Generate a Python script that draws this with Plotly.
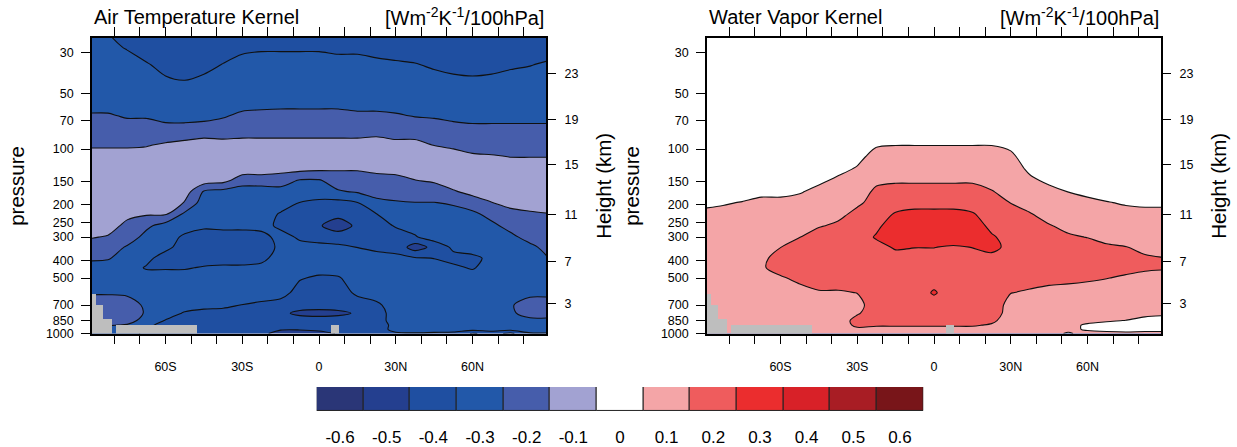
import numpy as np
import plotly.graph_objects as go

# ---------------- data ----------------
LAT = [-90, -82.5, -75, -67.5, -60, -52.5, -45, -37.5, -30, -22.5, -15, -7.5, 0,
       7.5, 15, 22.5, 30, 37.5, 45, 52.5, 60, 67.5, 75, 82.5, 90]
PRES = [1000, 950, 900, 850, 775, 700, 600, 500, 440, 390, 340, 300, 260, 225,
        195, 170, 148, 128, 110, 95, 80, 66, 54, 44, 35, 28, 22]

# Air temperature kernel: one vertical profile (values at PRES) per latitude in LAT
TA_KERNEL = [
    [-0.30, -0.30, -0.22, -0.20, -0.20, -0.20, -0.26, -0.30, -0.30, -0.23, -0.20, -0.14, -0.10, -0.10, -0.10, -0.10, -0.10, -0.10, -0.12, -0.16, -0.20, -0.24, -0.30, -0.30, -0.30, -0.30, -0.30],
    [-0.30, -0.30, -0.24, -0.20, -0.20, -0.20, -0.26, -0.30, -0.30, -0.24, -0.20, -0.16, -0.10, -0.10, -0.10, -0.10, -0.10, -0.10, -0.12, -0.16, -0.20, -0.24, -0.30, -0.30, -0.30, -0.32, -0.36],
    [-0.30, -0.30, -0.26, -0.20, -0.20, -0.20, -0.27, -0.30, -0.30, -0.30, -0.26, -0.20, -0.18, -0.12, -0.10, -0.10, -0.10, -0.10, -0.12, -0.16, -0.20, -0.26, -0.30, -0.30, -0.30, -0.36, -0.40],
    [-0.38, -0.36, -0.33, -0.30, -0.26, -0.27, -0.30, -0.30, -0.36, -0.32, -0.30, -0.28, -0.23, -0.14, -0.10, -0.10, -0.10, -0.10, -0.12, -0.155, -0.20, -0.26, -0.30, -0.30, -0.34, -0.40, -0.40],
    [-0.40, -0.40, -0.38, -0.355, -0.30, -0.30, -0.30, -0.30, -0.36, -0.40, -0.32, -0.30, -0.29, -0.14, -0.10, -0.10, -0.10, -0.10, -0.11, -0.14, -0.20, -0.29, -0.31, -0.33, -0.38, -0.40, -0.40],
    [-0.42, -0.42, -0.40, -0.38, -0.36, -0.30, -0.30, -0.30, -0.36, -0.40, -0.40, -0.37, -0.30, -0.27, -0.155, -0.10, -0.10, -0.10, -0.10, -0.13, -0.19, -0.30, -0.30, -0.34, -0.40, -0.40, -0.40],
    [-0.42, -0.42, -0.40, -0.40, -0.37, -0.33, -0.30, -0.30, -0.34, -0.40, -0.42, -0.40, -0.33, -0.30, -0.30, -0.26, -0.10, -0.10, -0.10, -0.12, -0.18, -0.29, -0.30, -0.32, -0.38, -0.40, -0.40],
    [-0.42, -0.42, -0.42, -0.40, -0.38, -0.33, -0.30, -0.30, -0.33, -0.40, -0.42, -0.40, -0.32, -0.30, -0.30, -0.28, -0.12, -0.10, -0.10, -0.12, -0.19, -0.26, -0.30, -0.33, -0.345, -0.40, -0.40],
    [-0.42, -0.42, -0.42, -0.40, -0.38, -0.352, -0.30, -0.30, -0.33, -0.40, -0.42, -0.40, -0.32, -0.30, -0.30, -0.30, -0.20, -0.10, -0.10, -0.12, -0.18, -0.23, -0.30, -0.30, -0.32, -0.37, -0.40],
    [-0.42, -0.42, -0.42, -0.42, -0.40, -0.37, -0.30, -0.30, -0.32, -0.38, -0.42, -0.40, -0.30, -0.30, -0.30, -0.30, -0.20, -0.10, -0.10, -0.12, -0.18, -0.22, -0.30, -0.30, -0.32, -0.36, -0.40],
    [-0.50, -0.44, -0.42, -0.40, -0.43, -0.40, -0.30, -0.30, -0.30, -0.30, -0.32, -0.30, -0.38, -0.36, -0.30, -0.29, -0.20, -0.12, -0.10, -0.12, -0.18, -0.22, -0.29, -0.30, -0.32, -0.36, -0.40],
    [-0.53, -0.44, -0.42, -0.41, -0.47, -0.41, -0.40, -0.34, -0.30, -0.30, -0.31, -0.37, -0.42, -0.41, -0.352, -0.30, -0.26, -0.12, -0.10, -0.12, -0.18, -0.22, -0.29, -0.30, -0.32, -0.36, -0.40],
    [-0.50, -0.42, -0.42, -0.41, -0.48, -0.41, -0.41, -0.37, -0.30, -0.30, -0.32, -0.39, -0.44, -0.41, -0.37, -0.30, -0.26, -0.13, -0.10, -0.12, -0.18, -0.22, -0.29, -0.30, -0.32, -0.36, -0.40],
    [-0.44, -0.42, -0.42, -0.41, -0.47, -0.41, -0.40, -0.36, -0.30, -0.30, -0.33, -0.40, -0.50, -0.42, -0.38, -0.26, -0.20, -0.14, -0.10, -0.12, -0.18, -0.22, -0.29, -0.30, -0.32, -0.37, -0.40],
    [-0.40, -0.40, -0.40, -0.40, -0.44, -0.40, -0.33, -0.30, -0.30, -0.30, -0.352, -0.40, -0.43, -0.41, -0.352, -0.24, -0.20, -0.14, -0.10, -0.12, -0.18, -0.23, -0.30, -0.30, -0.32, -0.37, -0.40],
    [-0.38, -0.38, -0.40, -0.40, -0.40, -0.37, -0.30, -0.30, -0.30, -0.32, -0.37, -0.40, -0.40, -0.352, -0.27, -0.22, -0.18, -0.13, -0.10, -0.12, -0.17, -0.23, -0.30, -0.30, -0.33, -0.38, -0.40],
    [-0.36, -0.33, -0.32, -0.30, -0.30, -0.30, -0.30, -0.30, -0.30, -0.33, -0.38, -0.40, -0.34, -0.30, -0.26, -0.20, -0.18, -0.12, -0.10, -0.13, -0.18, -0.24, -0.30, -0.30, -0.34, -0.38, -0.40],
    [-0.36, -0.30, -0.30, -0.30, -0.30, -0.30, -0.30, -0.30, -0.31, -0.34, -0.50, -0.36, -0.31, -0.30, -0.252, -0.20, -0.152, -0.12, -0.10, -0.13, -0.18, -0.255, -0.30, -0.31, -0.345, -0.39, -0.40],
    [-0.37, -0.30, -0.30, -0.30, -0.30, -0.30, -0.30, -0.30, -0.32, -0.352, -0.42, -0.30, -0.30, -0.29, -0.252, -0.19, -0.14, -0.11, -0.10, -0.152, -0.20, -0.26, -0.30, -0.32, -0.36, -0.40, -0.40],
    [-0.38, -0.30, -0.30, -0.30, -0.30, -0.30, -0.30, -0.30, -0.33, -0.38, -0.33, -0.30, -0.30, -0.28, -0.24, -0.16, -0.10, -0.10, -0.11, -0.17, -0.20, -0.28, -0.30, -0.33, -0.37, -0.40, -0.40],
    [-0.46, -0.32, -0.30, -0.30, -0.30, -0.30, -0.30, -0.30, -0.36, -0.37, -0.31, -0.30, -0.30, -0.27, -0.20, -0.12, -0.10, -0.10, -0.13, -0.20, -0.21, -0.29, -0.30, -0.33, -0.38, -0.40, -0.40],
    [-0.42, -0.30, -0.30, -0.30, -0.30, -0.30, -0.30, -0.30, -0.30, -0.33, -0.30, -0.30, -0.27, -0.22, -0.152, -0.10, -0.10, -0.10, -0.14, -0.20, -0.21, -0.29, -0.30, -0.33, -0.37, -0.40, -0.40],
    [-0.47, -0.32, -0.30, -0.30, -0.27, -0.26, -0.30, -0.30, -0.30, -0.30, -0.30, -0.27, -0.22, -0.17, -0.13, -0.10, -0.10, -0.10, -0.152, -0.20, -0.21, -0.29, -0.30, -0.32, -0.36, -0.40, -0.40],
    [-0.36, -0.30, -0.30, -0.28, -0.20, -0.20, -0.28, -0.30, -0.30, -0.30, -0.27, -0.22, -0.19, -0.16, -0.12, -0.10, -0.10, -0.11, -0.152, -0.20, -0.21, -0.29, -0.30, -0.32, -0.352, -0.39, -0.40],
    [-0.36, -0.30, -0.30, -0.28, -0.20, -0.20, -0.28, -0.30, -0.30, -0.248, -0.22, -0.20, -0.18, -0.152, -0.12, -0.10, -0.10, -0.11, -0.152, -0.20, -0.21, -0.29, -0.30, -0.32, -0.34, -0.38, -0.40],
]

# Water vapor kernel: one vertical profile (values at PRES) per latitude in LAT
WV_KERNEL = [
    [0.10, 0.10, 0.10, 0.10, 0.10, 0.10, 0.10, 0.10, 0.10, 0.10, 0.10, 0.10, 0.09, 0.07, 0.03, 0.00, 0.00, 0.00, 0.00, 0.00, 0.00, 0.00, 0.00, 0.00, 0.00, 0.00, 0.00],
    [0.10, 0.10, 0.10, 0.10, 0.10, 0.10, 0.10, 0.10, 0.10, 0.10, 0.10, 0.10, 0.09, 0.08, 0.04, 0.00, 0.00, 0.00, 0.00, 0.00, 0.00, 0.00, 0.00, 0.00, 0.00, 0.00, 0.00],
    [0.10, 0.10, 0.10, 0.10, 0.10, 0.10, 0.10, 0.10, 0.10, 0.10, 0.10, 0.10, 0.10, 0.10, 0.055, 0.00, 0.00, 0.00, 0.00, 0.00, 0.00, 0.00, 0.00, 0.00, 0.00, 0.00, 0.00],
    [0.10, 0.10, 0.10, 0.10, 0.10, 0.10, 0.10, 0.12, 0.14, 0.12, 0.10, 0.10, 0.10, 0.10, 0.08, 0.02, 0.00, 0.00, 0.00, 0.00, 0.00, 0.00, 0.00, 0.00, 0.00, 0.00, 0.00],
    [0.10, 0.10, 0.10, 0.10, 0.10, 0.10, 0.11, 0.14, 0.18, 0.20, 0.148, 0.12, 0.10, 0.10, 0.08, 0.02, 0.00, 0.00, 0.00, 0.00, 0.00, 0.00, 0.00, 0.00, 0.00, 0.00, 0.00],
    [0.10, 0.10, 0.10, 0.10, 0.10, 0.10, 0.12, 0.17, 0.20, 0.20, 0.20, 0.148, 0.12, 0.10, 0.09, 0.04, 0.00, 0.00, 0.00, 0.00, 0.00, 0.00, 0.00, 0.00, 0.00, 0.00, 0.00],
    [0.10, 0.10, 0.10, 0.10, 0.10, 0.10, 0.14, 0.20, 0.20, 0.20, 0.20, 0.20, 0.14, 0.11, 0.10, 0.08, 0.03, 0.00, 0.00, 0.00, 0.00, 0.00, 0.00, 0.00, 0.00, 0.00, 0.00],
    [0.10, 0.10, 0.10, 0.10, 0.10, 0.10, 0.14, 0.20, 0.20, 0.20, 0.20, 0.20, 0.17, 0.12, 0.10, 0.10, 0.07, 0.02, 0.00, 0.00, 0.00, 0.00, 0.00, 0.00, 0.00, 0.00, 0.00],
    [0.10, 0.13, 0.17, 0.18, 0.14, 0.12, 0.152, 0.20, 0.20, 0.20, 0.20, 0.20, 0.20, 0.18, 0.13, 0.10, 0.10, 0.06, 0.02, 0.00, 0.00, 0.00, 0.00, 0.00, 0.00, 0.00, 0.00],
    [0.10, 0.12, 0.16, 0.20, 0.20, 0.20, 0.20, 0.20, 0.20, 0.20, 0.22, 0.26, 0.23, 0.20, 0.19, 0.17, 0.13, 0.10, 0.09, 0.04, 0.00, 0.00, 0.00, 0.00, 0.00, 0.00, 0.00],
    [0.10, 0.12, 0.16, 0.20, 0.20, 0.20, 0.20, 0.20, 0.20, 0.22, 0.26, 0.30, 0.30, 0.26, 0.20, 0.18, 0.14, 0.11, 0.10, 0.048, 0.00, 0.00, 0.00, 0.00, 0.00, 0.00, 0.00],
    [0.10, 0.12, 0.16, 0.20, 0.20, 0.20, 0.20, 0.20, 0.20, 0.22, 0.252, 0.30, 0.31, 0.28, 0.21, 0.18, 0.14, 0.11, 0.10, 0.048, 0.00, 0.00, 0.00, 0.00, 0.00, 0.00, 0.00],
    [0.10, 0.12, 0.16, 0.20, 0.20, 0.21, 0.26, 0.21, 0.20, 0.22, 0.252, 0.30, 0.31, 0.28, 0.21, 0.18, 0.14, 0.11, 0.10, 0.048, 0.00, 0.00, 0.00, 0.00, 0.00, 0.00, 0.00],
    [0.10, 0.12, 0.16, 0.20, 0.20, 0.20, 0.20, 0.20, 0.20, 0.22, 0.24, 0.30, 0.31, 0.28, 0.21, 0.18, 0.14, 0.11, 0.10, 0.048, 0.00, 0.00, 0.00, 0.00, 0.00, 0.00, 0.00],
    [0.10, 0.12, 0.16, 0.20, 0.20, 0.20, 0.20, 0.20, 0.20, 0.22, 0.252, 0.30, 0.29, 0.26, 0.20, 0.18, 0.14, 0.11, 0.10, 0.048, 0.00, 0.00, 0.00, 0.00, 0.00, 0.00, 0.00],
    [0.10, 0.11, 0.14, 0.17, 0.20, 0.20, 0.20, 0.20, 0.20, 0.23, 0.27, 0.26, 0.23, 0.20, 0.19, 0.155, 0.12, 0.10, 0.09, 0.048, 0.00, 0.00, 0.00, 0.00, 0.00, 0.00, 0.00],
    [0.10, 0.10, 0.10, 0.10, 0.11, 0.12, 0.152, 0.20, 0.20, 0.22, 0.23, 0.22, 0.20, 0.18, 0.148, 0.12, 0.10, 0.10, 0.07, 0.03, 0.00, 0.00, 0.00, 0.00, 0.00, 0.00, 0.00],
    [0.10, 0.10, 0.10, 0.10, 0.10, 0.11, 0.14, 0.18, 0.20, 0.20, 0.20, 0.20, 0.19, 0.155, 0.12, 0.10, 0.07, 0.03, 0.00, 0.00, 0.00, 0.00, 0.00, 0.00, 0.00, 0.00, 0.00],
    [0.08, 0.10, 0.10, 0.10, 0.10, 0.10, 0.13, 0.17, 0.20, 0.20, 0.20, 0.18, 0.155, 0.12, 0.10, 0.08, 0.03, 0.00, 0.00, 0.00, 0.00, 0.00, 0.00, 0.00, 0.00, 0.00, 0.00],
    [0.04, 0.07, 0.09, 0.10, 0.10, 0.10, 0.12, 0.17, 0.19, 0.20, 0.19, 0.16, 0.13, 0.11, 0.09, 0.048, 0.01, 0.00, 0.00, 0.00, 0.00, 0.00, 0.00, 0.00, 0.00, 0.00, 0.00],
    [0.08, 0.04, 0.03, 0.09, 0.10, 0.10, 0.12, 0.16, 0.18, 0.19, 0.18, 0.148, 0.12, 0.10, 0.07, 0.03, 0.00, 0.00, 0.00, 0.00, 0.00, 0.00, 0.00, 0.00, 0.00, 0.00, 0.00],
    [0.07, 0.03, 0.02, 0.06, 0.10, 0.10, 0.11, 0.152, 0.17, 0.18, 0.16, 0.13, 0.11, 0.09, 0.055, 0.01, 0.00, 0.00, 0.00, 0.00, 0.00, 0.00, 0.00, 0.00, 0.00, 0.00, 0.00],
    [0.07, 0.02, 0.02, 0.048, 0.09, 0.10, 0.11, 0.14, 0.17, 0.17, 0.152, 0.12, 0.10, 0.08, 0.04, 0.00, 0.00, 0.00, 0.00, 0.00, 0.00, 0.00, 0.00, 0.00, 0.00, 0.00, 0.00],
    [0.07, 0.03, 0.01, 0.03, 0.07, 0.10, 0.11, 0.13, 0.16, 0.16, 0.13, 0.11, 0.10, 0.08, 0.03, 0.00, 0.00, 0.00, 0.00, 0.00, 0.00, 0.00, 0.00, 0.00, 0.00, 0.00, 0.00],
    [0.07, 0.03, 0.01, 0.03, 0.06, 0.10, 0.11, 0.13, 0.155, 0.152, 0.12, 0.11, 0.10, 0.08, 0.03, 0.00, 0.00, 0.00, 0.00, 0.00, 0.00, 0.00, 0.00, 0.00, 0.00, 0.00, 0.00],
]

# missing data below the surface (grey): latitude bands and the pressure where grey begins
MASK_LAT_EDGES = [-88.75, -87.2, -84.4, -80.9, -79.4, -47.8, 4.6, 7.8]
MASK_TOP_P = [613, 703, 834, None, 896, None, 896]
SURFACE_P = 1000

CB_LABELS = ['-0.6', '-0.5', '-0.4', '-0.3', '-0.2', '-0.1', '0',
             '0.1', '0.2', '0.3', '0.4', '0.5', '0.6']
CB_COLORS = ['#2A3677', '#243F8F', '#1F4FA1', '#2258A9', '#465DAB', '#A2A2D2', '#FFFFFF',
             '#F4A5A7', '#EF5C5D', '#EB2D2E', '#D82128', '#A81D24', '#781519']

P_TICKS = [30, 50, 70, 100, 150, 200, 250, 300, 400, 500, 700, 850, 1000]
H_TICK_P = [39, 69, 121, 227, 405, 690]
H_TICK_TEXT = ['23', '19', '15', '11', '7', '3']
LAT_TICKS = [-60, -30, 0, 30, 60]
LAT_TEXT = ['60S', '30S', '0', '30N', '60N']
LAT_MINOR = [-80, -70, -50, -40, -20, -10, 10, 20, 40, 50, 70, 80]

# ---------------- figure ----------------
for col in TA_KERNEL + WV_KERNEL:
    assert len(col) == len(PRES), len(col)

W, H = 1237, 447
FONT = 'Liberation Sans, Arial, Helvetica, sans-serif'
PT = 39
PB = 342
LEFT = (92, 546)
RIGHT = (707, 1161)

def fx(px):
    return px / W

def fy(py):
    return 1 - py / H

y_inc = PRES[::-1]
z_ta = np.array(TA_KERNEL).T[::-1]
z_wv = np.array(WV_KERNEL).T[::-1]

cscale = [[i / (len(CB_COLORS) - 1), c] for i, c in enumerate(CB_COLORS)]

mask_x, mask_w, mask_base, mask_h = [], [], [], []
for i, top in enumerate(MASK_TOP_P):
    if top is None:
        continue
    a, b = MASK_LAT_EDGES[i], MASK_LAT_EDGES[i + 1]
    mask_x.append((a + b) / 2)
    mask_w.append(b - a)
    mask_base.append(top)
    mask_h.append(SURFACE_P - top)

fig = go.Figure()

def add_panel(z, xa, ya):
    fig.add_trace(go.Contour(
        x=LAT, y=y_inc, z=z, xaxis=xa, yaxis=ya,
        colorscale=cscale, autocontour=False,
        contours=dict(start=-0.55, end=0.55, size=0.1, coloring='fill', showlines=True),
        line=dict(color='#111111', width=1.1, smoothing=0.85),
        showscale=False, hoverinfo='skip'))
    fig.add_trace(go.Bar(
        x=mask_x, width=mask_w, base=mask_base, y=mask_h, xaxis=xa, yaxis=ya,
        marker=dict(color='#BEBEBE', line=dict(width=0)),
        showlegend=False, hoverinfo='skip'))

add_panel(z_ta, 'x', 'y')
add_panel(z_wv, 'x2', 'y3')
# empty traces so the right-hand height axes are drawn
fig.add_trace(go.Scatter(x=[None], y=[None], xaxis='x', yaxis='y2', showlegend=False, hoverinfo='skip'))
fig.add_trace(go.Scatter(x=[None], y=[None], xaxis='x2', yaxis='y4', showlegend=False, hoverinfo='skip'))

# colour bar drawn as a row of boxes
fig.add_trace(go.Bar(
    x=CB_LABELS, y=[1] * len(CB_LABELS), xaxis='x3', yaxis='y5',
    marker=dict(color=CB_COLORS, line=dict(color='#202020', width=1)),
    cliponaxis=False, showlegend=False, hoverinfo='skip'))

tickfont = dict(family=FONT, size=12.5, color='black')
yrange = [3, float(np.log10(25))]

def xaxis_cfg(dom, anchor):
    return dict(domain=dom, anchor=anchor, range=[-88.75, 88.75],
                tickmode='array', tickvals=LAT_TICKS, ticktext=LAT_TEXT,
                ticks='outside', ticklen=9, tickwidth=1.3, tickcolor='black',
                minor=dict(tickmode='array', tickvals=LAT_MINOR, ticks='outside',
                           ticklen=5, tickwidth=1.2, tickcolor='black', showgrid=False),
                showline=True, linecolor='black', linewidth=1.6, mirror='allticks',
                showgrid=False, zeroline=False, tickfont=tickfont, ticklabelstandoff=12)

def yaxis_cfg(anchor):
    return dict(domain=[fy(PB), fy(PT)], anchor=anchor, type='log', range=yrange,
                tickmode='array', tickvals=P_TICKS, ticktext=[str(v) for v in P_TICKS],
                ticks='outside', ticklen=9, tickwidth=1.3, tickcolor='black',
                showline=True, linecolor='black', linewidth=1.6, mirror=True,
                showgrid=False, zeroline=False, tickfont=tickfont, ticklabelstandoff=5)

def hyaxis_cfg(anchor, over):
    return dict(anchor=anchor, overlaying=over, side='right', type='log', range=yrange,
                tickmode='array', tickvals=H_TICK_P, ticktext=H_TICK_TEXT,
                ticks='outside', ticklen=9, tickwidth=1.3, tickcolor='black',
                showline=False, showgrid=False, zeroline=False, tickfont=tickfont,
                ticklabelstandoff=6)

fig.update_layout(
    width=W, height=H, autosize=False,
    margin=dict(l=0, r=0, t=0, b=0, pad=0),
    paper_bgcolor='white', plot_bgcolor='white',
    showlegend=False, bargap=0,
    font=dict(family=FONT, color='black'),
    xaxis=xaxis_cfg([fx(LEFT[0]), fx(LEFT[1])], 'y'),
    yaxis=yaxis_cfg('x'),
    yaxis2=hyaxis_cfg('x', 'y'),
    xaxis2=xaxis_cfg([fx(RIGHT[0]), fx(RIGHT[1])], 'y3'),
    yaxis3=yaxis_cfg('x2'),
    yaxis4=hyaxis_cfg('x2', 'y3'),
    xaxis3=dict(domain=[fx(316.7), fx(923.3)], anchor='y5', type='category',
                showline=False, showgrid=False, zeroline=False, ticks='',
                tickfont=dict(family=FONT, size=17, color='black'), ticklabelstandoff=14),
    yaxis5=dict(domain=[fy(421.7), fy(396.7)], anchor='x3', range=[0, 1], visible=False),
)

ann = []
def text(x, y, s, size, xanchor='center', angle=0):
    ann.append(dict(x=x, y=y, xref='paper', yref='paper', text=s, showarrow=False,
                    xanchor=xanchor, yanchor='middle', textangle=angle,
                    font=dict(family=FONT, size=size, color='black')))

units = '[Wm<sup>-2</sup>K<sup>-1</sup>/100hPa]'
text(fx(LEFT[0]), fy(17), 'Air Temperature Kernel', 20, 'left')
text(fx(LEFT[1]), fy(17), units, 20, 'right')
text(fx(RIGHT[0]), fy(17), 'Water Vapor Kernel', 20, 'left')
text(fx(RIGHT[1]), fy(17), units, 20, 'right')
ymid = fy((PT + PB) / 2)
text(fx(17), ymid, 'pressure', 20.5, 'center', -90)
text(fx(604), ymid, 'Height (km)', 20.5, 'center', -90)
text(fx(632), ymid, 'pressure', 20.5, 'center', -90)
text(fx(1219), ymid, 'Height (km)', 20.5, 'center', -90)
fig.update_layout(annotations=ann)

fig.write_html('out.html')
